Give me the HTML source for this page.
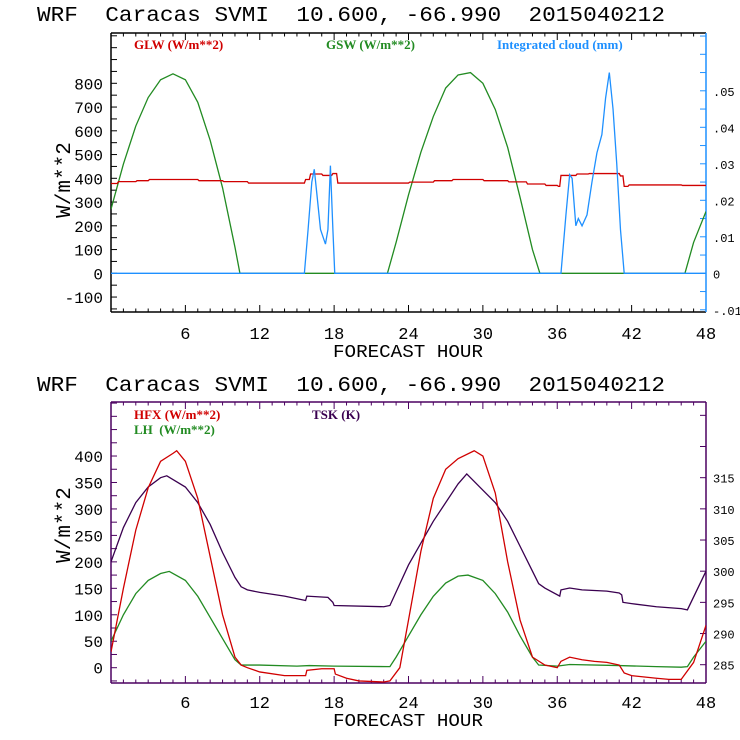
<!DOCTYPE html>
<html><head><meta charset="utf-8">
<style>
html,body{margin:0;padding:0;background:#fff;}
svg{display:block;}
text{font-family:"Liberation Mono",monospace;white-space:pre;}
.leg{font-family:"Liberation Serif",serif;font-weight:bold;font-size:13px;}
</style></head>
<body>
<svg id="chart" width="740" height="740" viewBox="0 0 740 740" xmlns="http://www.w3.org/2000/svg">
<rect x="0" y="0" width="740" height="740" fill="#fff"/>
</svg>
<script>
// ---- data ----
const xTicks = [6,12,18,24,30,36,42,48];
const topLeftTicks = [-100,0,100,200,300,400,500,600,700,800];
const topRightTicks = [-0.01,0,0.01,0.02,0.03,0.04,0.05];
const topRightLabels = ['-.01','0','.01','.02','.03','.04','.05'];
const botLeftTicks = [0,50,100,150,200,250,300,350,400];
const botRightTicks = [285,290,295,300,305,310,315];

const gswHours = [0,1,2,3,4,5,6,7,8,9,10,10.4,22.3,23,24,25,26,27,28,29,30,31,32,33,34,34.6,46.3,47,48];
const gswVals  = [270,460,620,740,815,840,815,720,560,360,110,0,0,130,330,510,660,780,835,845,800,690,530,320,100,0,0,130,260];

const glwHours = [0,0.5,0.6,2,2.1,3,3.1,7,7.1,9,9.1,11,11.1,15.6,15.7,16,16.1,17,17.1,17.8,17.9,18.2,18.3,24,24.1,26,26.1,27.5,27.6,30,30.1,32,32.1,33.5,33.6,35,35.1,36,36.1,36.2,36.3,37.5,37.6,38.5,38.6,41,41.1,41.3,41.4,41.7,41.8,46,46.1,48];
const glwVals  = [378,378,386,386,390,390,395,395,390,390,386,386,380,380,395,395,418,418,412,412,420,420,380,380,384,384,390,390,395,395,390,390,385,385,376,376,370,370,366,366,412,412,418,418,420,420,410,410,366,366,372,372,370,370];

const cloudHours = [0,15.6,15.9,16.2,16.4,16.6,16.9,17.2,17.3,17.5,17.7,17.9,18.05,36.3,36.7,37.0,37.2,37.5,37.7,38.0,38.4,38.8,39.2,39.6,39.9,40.2,40.5,40.8,41.1,41.4,48];
const cloudVals  = [0,0,0.012,0.025,0.0285,0.022,0.012,0.009,0.008,0.012,0.0295,0.012,0,0,0.016,0.027,0.026,0.013,0.015,0.013,0.016,0.025,0.033,0.038,0.048,0.055,0.045,0.03,0.012,0,0];

const hfxHours = [0,1,2,3,4,5,5.3,6,7,8,9,10,10.5,11,12,14,15.7,15.8,17,18,18.1,19,20,22,22.5,23.3,24,25,26,27,28,29.3,30,31,32,33,34,35,36,36.3,37,38,39,40,41,41.4,42,44,45,46,47,48];
const hfxVals  = [30,150,260,340,390,405,410,390,320,210,100,20,5,0,-8,-15,-15,-5,-2,-2,-12,-20,-25,-27,-25,0,90,220,320,375,395,410,400,330,200,90,20,5,0,12,20,15,12,10,5,-10,-15,-20,-22,-22,10,80];

const lhHours = [0,1,2,3,4,4.7,6,7,8,9,10,10.5,12,15,16,18,22.5,23,24,25,26,27,28,28.8,30,31,32,33,34,34.5,36,37,41,44,46,46.5,47,48];
const lhVals  = [50,100,140,165,178,182,165,135,95,55,15,5,5,3,4,3,2,20,60,100,135,160,173,175,165,140,105,60,20,5,3,6,4,2,1,2,20,50];

const tskHours = [0,1,2,3,4,4.5,6,7,8,9,10,10.5,11,12,14,15.7,15.8,17.5,17.9,18,22,22.5,24,26,28,28.7,30,31,32,33,34,34.5,35,36.2,36.3,37,38,40,41,41.2,41.3,42,44,46,46.5,48];
const tskVals  = [301.5,307,311,313.5,315,315.3,313.5,311,307.5,303,299,297.5,297,296.6,296,295.3,296,295.8,295,294.5,294.3,294.5,301,308,314,315.6,313,311,308,304,300,298,297.3,296,297,297.3,297,296.8,296.5,296.2,295,294.8,294.3,294,293.8,300];

// ---- layout ----
const svg = document.getElementById('chart');
const NS = 'http://www.w3.org/2000/svg';
const X0 = 111, X1 = 706;
function xs(h){ return X0 + h*(X1-X0)/48; }
const topY = v => 273.3 - v*0.2375;
const topYR = v => 273.3 - v*3650;
const botY = v => 667.7 - v*0.5292;
const botYR = v => 664.7 - (v-285)*6.234;

function el(tag, attrs, parent){
  const e = document.createElementNS(NS, tag);
  for (const k in attrs) e.setAttribute(k, attrs[k]);
  (parent||svg).appendChild(e);
  return e;
}
function txt(str, x, y, attrs){
  const t = el('text', Object.assign({x:x,y:y}, attrs||{}));
  t.setAttributeNS('http://www.w3.org/XML/1998/namespace','xml:space','preserve');
  t.textContent = str;
  return t;
}
function line(hours, vals, yf, color, name, y0, y1){
  let d = '';
  hours.forEach((h,i)=>{ d += (i?'L':'M') + xs(h).toFixed(2) + ',' + yf(vals[i]).toFixed(2); });
  const g = el('g', {});
  
  
  const cid = name + '-clip';
  const cp = el('clipPath', {id:cid}, g);
  el('rect', {x:X0, y:y0, width:X1-X0, height:y1-y0}, cp);
  const p = el('path', {d:d, fill:'none', stroke:color, 'stroke-width':1.3, 'clip-path':'url(#'+cid+')'}, g);
  
  
}

function panel(opts){
  const {top, bot, frame, rightColor, leftTicks, leftMinor, yf, rightTicks, rightLabels, rightMinor, yr, titleY, tickLabY, xTitleY, yTitleY, prefix} = opts;
  const t = txt('WRF  Caracas SVMI  10.600, -66.990  2015040212', 37, titleY, {'font-size':21, fill:'#000', textLength:628, lengthAdjust:'spacingAndGlyphs'});
  
  
  el('line',{x1:X0,y1:top,x2:X1,y2:top,stroke:frame,'stroke-width':1.5});
  el('line',{x1:X0,y1:bot,x2:X1,y2:bot,stroke:frame,'stroke-width':1.5});
  el('line',{x1:X0,y1:top,x2:X0,y2:bot,stroke:frame,'stroke-width':1.5});
  el('line',{x1:X1,y1:top,x2:X1,y2:bot,stroke:rightColor,'stroke-width':1.5});
  for (let h=1; h<48; h+=1){
    const major = h%6===0;
    const L = major?7:3.5;
    el('line',{x1:xs(h),y1:bot,x2:xs(h),y2:bot-L,stroke:frame,'stroke-width':1});
    el('line',{x1:xs(h),y1:top,x2:xs(h),y2:top+L,stroke:frame,'stroke-width':1});
  }
  xTicks.forEach(h=>{
    const l = txt(String(h), xs(h), tickLabY, {'font-size':17,'text-anchor':'middle',fill:'#000'});
    
    
  });
  const xt = txt('FORECAST HOUR', 408, xTitleY, {'font-size':18,'text-anchor':'middle',fill:'#000',textLength:150,lengthAdjust:'spacingAndGlyphs'});
  
  
  for (let v=leftMinor[0]; v<=leftMinor[1]; v+=leftMinor[2]){
    const y = yf(v); if (y<top+1||y>bot-1) continue;
    el('line',{x1:X0,y1:y,x2:X0+6,y2:y,stroke:frame,'stroke-width':1});
  }
  leftTicks.forEach(v=>{
    const l = txt(String(v), X0-8, yf(v)+6, {'font-size':16,'text-anchor':'end',fill:'#000'});
    
    
  });
  for (let v=rightMinor[0]; v<=rightMinor[1]+1e-9; v+=rightMinor[2]){
    const y = yr(v); if (y<top+1||y>bot-1) continue;
    el('line',{x1:X1,y1:y,x2:X1-6,y2:y,stroke:rightColor,'stroke-width':1});
  }
  rightTicks.forEach((v,i)=>{
    const l = txt(rightLabels[i], X1+7, yr(v)+5, {'font-size':12,fill:'#000'});
    
    
  });
  const yt = txt('W/m**2', 0, 0, {'font-size':21,'text-anchor':'middle',fill:'#000',transform:'translate(70,'+yTitleY+') rotate(-90)'});
  
  
}

panel({top:33, bot:312, frame:'#000', rightColor:'#1e90ff', leftTicks:topLeftTicks, leftMinor:[-200,1000,50], yf:topY,
  rightTicks:topRightTicks, rightLabels:topRightLabels, rightMinor:[-0.015,0.08,0.005], yr:topYR,
  titleY:21, tickLabY:339, xTitleY:357, yTitleY:180, prefix:'top'});
line(gswHours, gswVals, topY, '#228b22', 'gsw-line', 33, 312);
line(glwHours, glwVals, topY, '#d00000', 'glw-line', 33, 312);
line(cloudHours, cloudVals, topYR, '#1e90ff', 'cloud-line', 33, 312);
let lg;
lg = txt('GLW (W/m**2)', 134, 49, {class:'leg', fill:'#d00000'});
 
lg = txt('GSW (W/m**2)', 326, 49, {class:'leg', fill:'#228b22'});
 
lg = txt('Integrated cloud (mm)', 497, 49, {class:'leg', fill:'#1e90ff'});
 

panel({top:402, bot:683, frame:'#4b0060', rightColor:'#4b0060', leftTicks:botLeftTicks, leftMinor:[-50,500,25], yf:botY,
  rightTicks:botRightTicks, rightLabels:botRightTicks.map(String), rightMinor:[280,330,5], yr:botYR,
  titleY:391, tickLabY:708, xTitleY:726, yTitleY:525, prefix:'bottom'});
line(lhHours, lhVals, botY, '#228b22', 'lh-line', 402, 683);
line(tskHours, tskVals, botYR, '#3a0050', 'tsk-line', 402, 683);
line(hfxHours, hfxVals, botY, '#d00000', 'hfx-line', 402, 683);
lg = txt('HFX (W/m**2)', 134, 419, {class:'leg', fill:'#d00000'});
 
lg = txt('LH  (W/m**2)', 134, 434, {class:'leg', fill:'#228b22'});
 
lg = txt('TSK (K)', 312, 419, {class:'leg', fill:'#3a0050'});
 
</script>
</body></html>
